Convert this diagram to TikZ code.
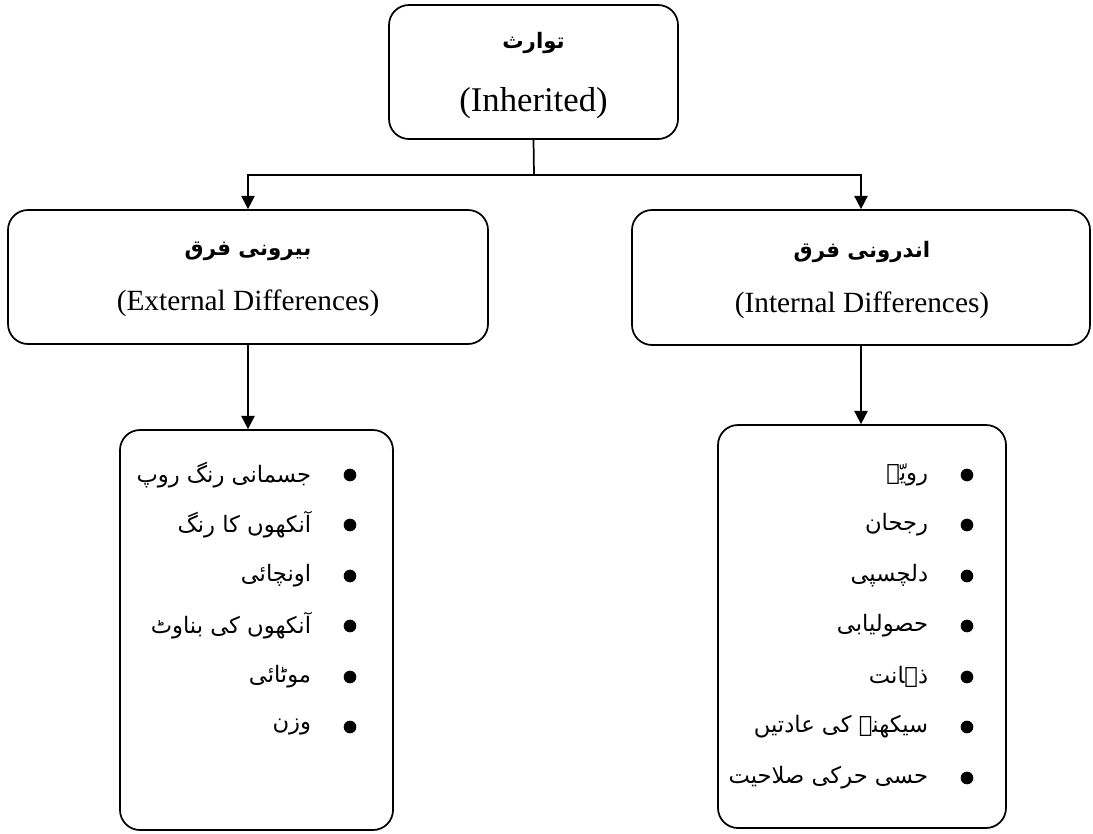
\documentclass[tikz,border=0pt]{standalone}
\usepackage{fontspec}
\setmainfont{Liberation Serif}
\newfontfamily\urdufont[Script=Arabic]{DejaVu Sans}
\TeXXeTstate=1
\usetikzlibrary{arrows.meta,positioning}

\tikzset{
  box/.style={draw, line width=1.3pt, rounded corners=15pt, inner sep=0pt},
  link/.style={line width=1.3pt, -{Triangle[length=10pt,width=10pt]}},
  dot/.style={circle, fill, inner sep=0pt, minimum size=9.5pt},
  item/.style={inner sep=0pt, font=\urdufont\fontsize{17}{20}\selectfont},
  urhead/.style={inner sep=0pt, font=\urdufont\bfseries\fontsize{16}{19}\selectfont},
  enhead/.style={inner sep=0pt, font=\fontsize{22}{26}\selectfont},
}

\begin{document}
\begin{tikzpicture}[x=0.75pt, y=-0.75pt]
\useasboundingbox (0,0) rectangle (1093,833);
% boxes
\node[box, minimum width=216.75pt, minimum height=100.5pt] (top) at (533.5,72) {};
\node[box, minimum width=360pt, minimum height=100.5pt] (ext) at (248,277) {};
\node[box, minimum width=343.5pt, minimum height=101.25pt] (int) at (861,277.5) {};
\node[box, minimum width=204.75pt, minimum height=300pt] (extlist) at (256.5,630) {};
\node[box, minimum width=216pt, minimum height=302.25pt] (intlist) at (862,626.5) {};
% headings
\node[urhead] (top-ur) at (533.5,43) {\beginR توارث\endR};
\node[enhead, font=\fontsize{26}{30}\selectfont] (top-en) at (533.5,103) {(Inherited)};
\node[urhead] (ext-ur) at (248,251) {\beginR بیرونی فرق\endR};
\node[enhead] (ext-en) at (248,303) {(External Differences)};
\node[urhead] (int-ur) at (862,252) {\beginR اندرونی فرق\endR};
\node[enhead] (int-en) at (862,305) {(Internal Differences)};
% connectors
\coordinate (split) at (534,175);
\draw[link] (top.south) -- (split) -| (ext.north);
\draw[link] (split) -| (int.north);
\draw[link] (ext.south) -- (ext.south |- extlist.north);
\draw[link] (int.south) -- (int.south |- intlist.north);
% external list
\node[dot] (e1) at (350,475) {};
\node[dot] (e2) at (350,525) {};
\node[dot] (e3) at (350,576) {};
\node[dot] (e4) at (350,626) {};
\node[dot] (e5) at (350,677) {};
\node[dot] (e6) at (350,727) {};
\node[item, left=24pt of e1] (e1-t) {\beginR جسمانی رنگ روپ\endR};
\node[item, left=24pt of e2] (e2-t) {\beginR آنکھوں کا رنگ\endR};
\node[item, left=24pt of e3] (e3-t) {\beginR اونچائی\endR};
\node[item, left=24pt of e4] (e4-t) {\beginR آنکھوں کی بناوٹ\endR};
\node[item, left=24pt of e5] (e5-t) {\beginR موٹائی\endR};
\node[item, left=24pt of e6] (e6-t) {\beginR وزن\endR};
% internal list
\node[dot] (i1) at (967,475) {};
\node[dot] (i2) at (967,525) {};
\node[dot] (i3) at (967,576) {};
\node[dot] (i4) at (967,626) {};
\node[dot] (i5) at (967,677) {};
\node[dot] (i6) at (967,727) {};
\node[dot] (i7) at (967,778) {};
\node[item, left=24pt of i1] (i1-t) {\beginR رویّہ\endR};
\node[item, left=24pt of i2] (i2-t) {\beginR رجحان\endR};
\node[item, left=24pt of i3] (i3-t) {\beginR دلچسپی\endR};
\node[item, left=24pt of i4] (i4-t) {\beginR حصولیابی\endR};
\node[item, left=24pt of i5] (i5-t) {\beginR ذہانت\endR};
\node[item, left=24pt of i6] (i6-t) {\beginR سیکھنے کی عادتیں\endR};
\node[item, left=24pt of i7] (i7-t) {\beginR حسی حرکی صلاحیت\endR};
\end{tikzpicture}
\end{document}
